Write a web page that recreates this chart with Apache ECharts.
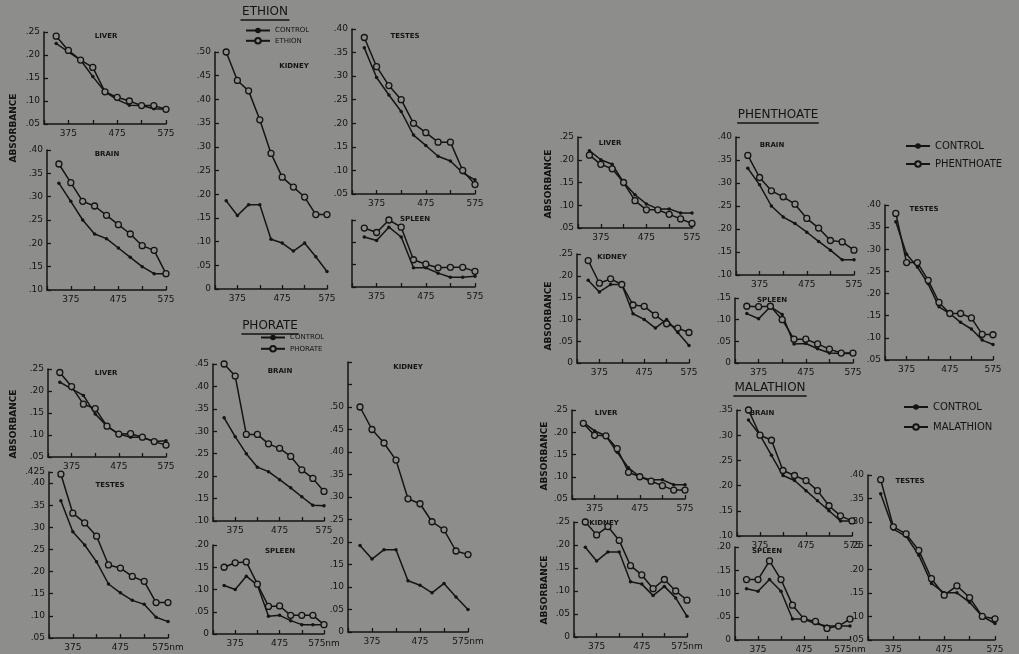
<!DOCTYPE html>
<html><head><meta charset="utf-8">
<script src="https://cdn.jsdelivr.net/npm/echarts@6/dist/echarts.min.js"></script>
<style>html,body{margin:0;padding:0;background:#8d8d8b}#c{width:1019px;height:654px}</style>
</head><body><div id="c"></div>
<script>
// ---- data ----
const WAVELENGTHS = [350,375,400,425,450,475,500,525,550,575];
const X_TICK_LABELS = [375,475,575];

const ETHION_LIVER_CONTROL  = [.225,.207,.189,.153,.12,.103,.091,.09,.083,.082];
const ETHION_LIVER_TREATED  = [.241,.21,.189,.173,.12,.108,.10,.09,.09,.082];
const ETHION_BRAIN_CONTROL  = [.329,.29,.25,.22,.21,.19,.17,.15,.135,.135];
const ETHION_BRAIN_TREATED  = [.37,.33,.29,.28,.26,.24,.22,.195,.185,.135];
const ETHION_KIDNEY_CONTROL = [.186,.155,.178,.178,.105,.097,.08,.097,.068,.037];
const ETHION_KIDNEY_TREATED = [.50,.44,.418,.357,.286,.236,.215,.194,.157,.157];
const ETHION_TESTES_CONTROL = [.36,.297,.26,.225,.175,.153,.13,.12,.095,.08];
const ETHION_TESTES_TREATED = [.382,.32,.28,.25,.20,.18,.16,.16,.10,.07];
const ETHION_SPLEEN_CONTROL = [.112,.104,.134,.112,.043,.043,.031,.022,.022,.024];
const ETHION_SPLEEN_TREATED = [.132,.122,.15,.134,.061,.051,.043,.044,.044,.035];

const PHORATE_LIVER_CONTROL  = [.22,.205,.19,.148,.12,.102,.095,.095,.085,.087];
const PHORATE_LIVER_TREATED  = [.242,.21,.17,.16,.12,.102,.103,.095,.085,.077];
const PHORATE_TESTES_CONTROL = [.36,.29,.26,.222,.172,.152,.135,.126,.097,.087];
const PHORATE_TESTES_TREATED = [.42,.332,.31,.28,.215,.208,.189,.178,.13,.13];
const PHORATE_BRAIN_CONTROL  = [.33,.288,.25,.22,.21,.192,.174,.154,.135,.134];
const PHORATE_BRAIN_TREATED  = [.45,.423,.293,.293,.272,.262,.244,.214,.195,.166];
const PHORATE_SPLEEN_CONTROL = [.109,.10,.13,.11,.04,.042,.03,.021,.021,.021];
const PHORATE_SPLEEN_TREATED = [.15,.16,.162,.112,.062,.063,.042,.042,.042,.021];
const PHORATE_KIDNEY_CONTROL = [.192,.162,.183,.183,.114,.104,.087,.108,.078,.05];
const PHORATE_KIDNEY_TREATED = [.50,.45,.42,.382,.296,.285,.245,.227,.18,.172];

const PHENTHOATE_LIVER_CONTROL  = [.22,.20,.19,.15,.123,.103,.092,.092,.083,.083];
const PHENTHOATE_LIVER_TREATED  = [.21,.19,.18,.15,.11,.09,.09,.08,.07,.06];
const PHENTHOATE_KIDNEY_CONTROL = [.19,.163,.18,.18,.113,.10,.08,.10,.07,.04];
const PHENTHOATE_KIDNEY_TREATED = [.235,.183,.193,.18,.133,.13,.11,.09,.08,.07];
const PHENTHOATE_BRAIN_CONTROL  = [.332,.296,.25,.226,.212,.193,.173,.154,.133,.133];
const PHENTHOATE_BRAIN_TREATED  = [.36,.312,.283,.27,.254,.223,.202,.175,.172,.154];
const PHENTHOATE_SPLEEN_CONTROL = [.114,.102,.13,.112,.044,.045,.033,.023,.022,.022];
const PHENTHOATE_SPLEEN_TREATED = [.131,.13,.131,.10,.055,.055,.044,.032,.023,.023];
const PHENTHOATE_TESTES_CONTROL = [.362,.289,.26,.222,.17,.155,.135,.12,.095,.085];
const PHENTHOATE_TESTES_TREATED = [.381,.27,.27,.23,.18,.155,.155,.145,.108,.107];

const MALATHION_LIVER_CONTROL  = [.222,.203,.192,.155,.12,.10,.093,.093,.082,.082];
const MALATHION_LIVER_TREATED  = [.22,.193,.192,.163,.11,.10,.09,.08,.07,.07];
const MALATHION_KIDNEY_CONTROL = [.195,.165,.185,.185,.12,.115,.09,.11,.085,.045];
const MALATHION_KIDNEY_TREATED = [.25,.222,.24,.21,.155,.135,.105,.125,.10,.08];
const MALATHION_BRAIN_CONTROL  = [.33,.30,.26,.22,.21,.19,.17,.15,.13,.13];
const MALATHION_BRAIN_TREATED  = [.35,.30,.29,.23,.22,.21,.19,.16,.14,.13];
const MALATHION_SPLEEN_CONTROL = [.11,.105,.13,.105,.045,.045,.035,.03,.03,.03];
const MALATHION_SPLEEN_TREATED = [.13,.13,.17,.13,.075,.045,.04,.025,.03,.045];
const MALATHION_TESTES_CONTROL = [.36,.285,.27,.23,.17,.15,.15,.13,.10,.085];
const MALATHION_TESTES_TREATED = [.39,.29,.275,.24,.18,.145,.165,.14,.10,.095];

// ---- layout / styling ----
const BG = '#8d8d8b', INK = '#141414', FONT = 'DejaVu Sans';
const panels = [
  // treatment, organ, grid [left, top, width, height], yMin, yMax, yLabels, nm, labelPos, control, treated
  ['ETHION','LIVER',[44,32,122,92],.05,.25,true,false,[106,33],ETHION_LIVER_CONTROL,ETHION_LIVER_TREATED],
  ['ETHION','BRAIN',[47,150,119,140],.10,.40,true,false,[107,151],ETHION_BRAIN_CONTROL,ETHION_BRAIN_TREATED],
  ['ETHION','KIDNEY',[215,52,112,237],0,.50,true,false,[294,63],ETHION_KIDNEY_CONTROL,ETHION_KIDNEY_TREATED],
  ['ETHION','TESTES',[352,29,123,165],.05,.40,true,false,[405,33],ETHION_TESTES_CONTROL,ETHION_TESTES_TREATED],
  ['ETHION','SPLEEN',[352,220,123,67],0,.15,false,false,[415,216],ETHION_SPLEEN_CONTROL,ETHION_SPLEEN_TREATED],
  ['PHORATE','LIVER',[48,369,118,88],.05,.25,true,false,[106,370],PHORATE_LIVER_CONTROL,PHORATE_LIVER_TREATED],
  ['PHORATE','TESTES',[49,472,119,166],.05,.425,true,true,[110,482],PHORATE_TESTES_CONTROL,PHORATE_TESTES_TREATED],
  ['PHORATE','BRAIN',[213,364,111,157],.10,.45,true,false,[280,368],PHORATE_BRAIN_CONTROL,PHORATE_BRAIN_TREATED],
  ['PHORATE','SPLEEN',[213,545,111,89],0,.20,true,true,[280,548],PHORATE_SPLEEN_CONTROL,PHORATE_SPLEEN_TREATED],
  ['PHORATE','KIDNEY',[348,362,120,270],0,.60,true,true,[408,364],PHORATE_KIDNEY_CONTROL,PHORATE_KIDNEY_TREATED],
  ['PHENTHOATE','LIVER',[578,137,114,91],.05,.25,true,false,[610,140],PHENTHOATE_LIVER_CONTROL,PHENTHOATE_LIVER_TREATED],
  ['PHENTHOATE','KIDNEY',[577,254,112,109],0,.25,true,false,[612,254],PHENTHOATE_KIDNEY_CONTROL,PHENTHOATE_KIDNEY_TREATED],
  ['PHENTHOATE','BRAIN',[736,137,118,138],.10,.40,true,false,[772,142],PHENTHOATE_BRAIN_CONTROL,PHENTHOATE_BRAIN_TREATED],
  ['PHENTHOATE','SPLEEN',[735,298,118,65],0,.15,true,false,[772,297],PHENTHOATE_SPLEEN_CONTROL,PHENTHOATE_SPLEEN_TREATED],
  ['PHENTHOATE','TESTES',[885,205,108,155],.05,.40,true,false,[924,206],PHENTHOATE_TESTES_CONTROL,PHENTHOATE_TESTES_TREATED],
  ['MALATHION','LIVER',[572,410,113,89],.05,.25,true,false,[606,410],MALATHION_LIVER_CONTROL,MALATHION_LIVER_TREATED],
  ['MALATHION','KIDNEY',[574,522,113,115],0,.25,true,true,[604,520],MALATHION_KIDNEY_CONTROL,MALATHION_KIDNEY_TREATED],
  ['MALATHION','BRAIN',[737,410,115,126],.10,.35,true,false,[762,410],MALATHION_BRAIN_CONTROL,MALATHION_BRAIN_TREATED],
  ['MALATHION','SPLEEN',[735,547,115,94],0,.20,true,true,[767,548],MALATHION_SPLEEN_CONTROL,MALATHION_SPLEEN_TREATED],
  ['MALATHION','TESTES',[868,475,127,170],.05,.40,true,false,[910,478],MALATHION_TESTES_CONTROL,MALATHION_TESTES_TREATED]
];

function yFmt(v){
  if (Math.abs(v) < 1e-9) return '0';
  const r = Math.abs(v*100 - Math.round(v*100)) > 0.01 ? v.toFixed(3) : v.toFixed(2);
  return '.' + r.split('.')[1];
}

const grid = [], xAxis = [], yAxis = [], series = [], graphic = [];
panels.forEach((p, i) => {
  const [treat, organ, g, ymin, ymax, ylab, nm, lp, ctrl, trt] = p;
  grid.push({left:g[0], top:g[1], width:g[2], height:g[3]});
  xAxis.push({
    type:'value', gridIndex:i, min:325, max:575, interval:50,
    splitLine:{show:false},
    axisLine:{lineStyle:{color:INK,width:1.5}},
    axisTick:{inside:true,length:4,lineStyle:{color:INK,width:1.3}},
    axisLabel:{color:INK,fontSize:9,fontFamily:FONT,margin:5,
      formatter:v => X_TICK_LABELS.indexOf(Math.round(v))>=0 ? (Math.round(v)===575 && nm ? '575nm' : String(Math.round(v))) : ''}
  });
  yAxis.push({
    type:'value', gridIndex:i, min:ymin, max:ymax, interval:.05,
    splitLine:{show:false},
    axisLine:{show:true,lineStyle:{color:INK,width:1.5}},
    axisTick:{show:true,inside:true,length:4,lineStyle:{color:INK,width:1.3}},
    axisLabel:{show:ylab,color:INK,fontSize:9,fontFamily:FONT,margin:4,
      formatter:v => (organ==='KIDNEY' && treat==='PHORATE' && v>0.5001) ? '' : yFmt(v)}
  });
  series.push({
    name:'CONTROL', type:'line', xAxisIndex:i, yAxisIndex:i,
    data: WAVELENGTHS.map((w,k)=>[w,ctrl[k]]),
    symbol:'circle', symbolSize:3.5, showSymbol:true,
    lineStyle:{color:INK,width:1.5}, itemStyle:{color:INK}, animation:false
  });
  series.push({
    name:treat, type:'line', xAxisIndex:i, yAxisIndex:i,
    data: WAVELENGTHS.map((w,k)=>[w,trt[k]]),
    symbol:'circle', symbolSize:6, showSymbol:true,
    lineStyle:{color:INK,width:1.5}, itemStyle:{color:BG,borderColor:INK,borderWidth:1.3}, animation:false
  });
  graphic.push({type:'text', x:lp[0], y:lp[1], style:{text:organ, fill:INK, font:'bold 7px '+FONT, align:'center', verticalAlign:'top'}});
});

// treatment titles with underline
[['ETHION',265,12,12],['PHORATE',270,326,12],['PHENTHOATE',778,115,12],['MALATHION',770,388,12]].forEach(t=>{
  graphic.push({type:'text', x:t[1], y:t[2], style:{text:t[0], fill:INK, font:t[3]+'px '+FONT, align:'center', verticalAlign:'middle'}});
  const w = t[0].length*t[3]*0.68;
  graphic.push({type:'line', shape:{x1:t[1]-w/2, y1:t[2]+8, x2:t[1]+w/2, y2:t[2]+8}, style:{stroke:INK, lineWidth:1.3}});
});
// ABSORBANCE labels
[[14,128],[14,424],[549,184],[549,316],[545,456],[545,590]].forEach(a=>{
  graphic.push({type:'text', x:a[0], y:a[1], rotation:Math.PI/2,
    style:{text:'ABSORBANCE', fill:INK, font:'bold 9px '+FONT, align:'center', verticalAlign:'middle'}});
});

const legend = [
  ['ETHION',245,27,3,7],['PHORATE',260,334,4,7],['PHENTHOATE',905,141,8,10],['MALATHION',903,402,10,10]
].map(l=>({
  data:['CONTROL',l[0]], orient:'vertical', left:l[1], top:l[2], itemGap:l[3],
  itemWidth:24, itemHeight:7, padding:0,
  textStyle:{color:INK,fontSize:l[4],fontFamily:FONT}
}));

const chart = echarts.init(document.getElementById('c'), null, {renderer:'canvas'});
chart.setOption({backgroundColor:BG, animation:false, grid, xAxis, yAxis, series, legend, graphic});
</script></body></html>
